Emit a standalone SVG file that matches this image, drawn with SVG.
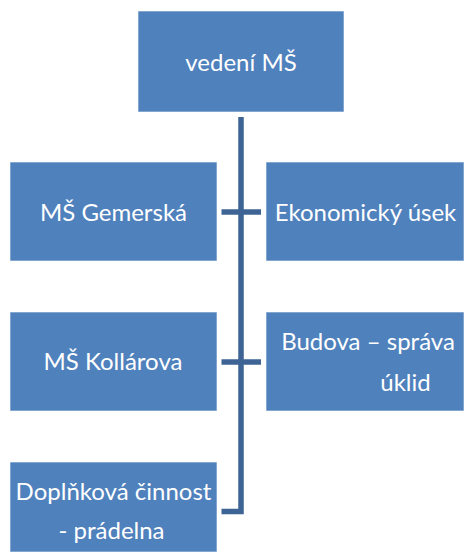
<svg xmlns="http://www.w3.org/2000/svg" width="466" height="556" viewBox="0 0 466 556">
<style>
.box{fill:#4f81bd;stroke:#ffffff;stroke-opacity:0.6;stroke-width:1}
.lbl{fill:#ffffff;font-family:Lato,"Open Sans","DejaVu Sans",sans-serif;font-size:24px;text-anchor:middle}
.conn{fill:none;stroke:#3d6494;stroke-width:5.5;stroke-linejoin:miter}
</style>
<rect width="466" height="556" fill="#ffffff"/>
<g id="connectors">
<path class="conn" d="M241 117 V511.5 H221.5"/>
<path class="conn" d="M221.5 212 H261"/>
<path class="conn" d="M221.5 362 H261"/>
</g>
<g id="vedeni">
<rect class="box" x="138" y="11" width="206" height="101"/>
<text class="lbl" x="241" y="70.5">vedení MŠ</text>
</g>
<g id="gemerska">
<rect class="box" x="10" y="162" width="207" height="99"/>
<text class="lbl" x="113.5" y="220.5">MŠ Gemerská</text>
</g>
<g id="ekonomicky">
<rect class="box" x="266" y="162" width="198" height="99"/>
<text class="lbl" x="365.5" y="220.5">Ekonomický úsek</text>
</g>
<g id="kollarova">
<rect class="box" x="10" y="312" width="207" height="99"/>
<text class="lbl" x="113" y="370">MŠ Kollárova</text>
</g>
<g id="budova">
<rect class="box" x="266" y="312" width="198" height="99"/>
<text class="lbl" x="368" y="350">Budova – správa</text>
<text class="lbl" x="405.5" y="390.5">úklid</text>
</g>
<g id="doplnkova">
<rect class="box" x="10" y="462" width="207" height="90"/>
<text class="lbl" x="113.5" y="500">Doplňková činnost</text>
<text class="lbl" x="111.5" y="539">- prádelna</text>
</g>
</svg>
